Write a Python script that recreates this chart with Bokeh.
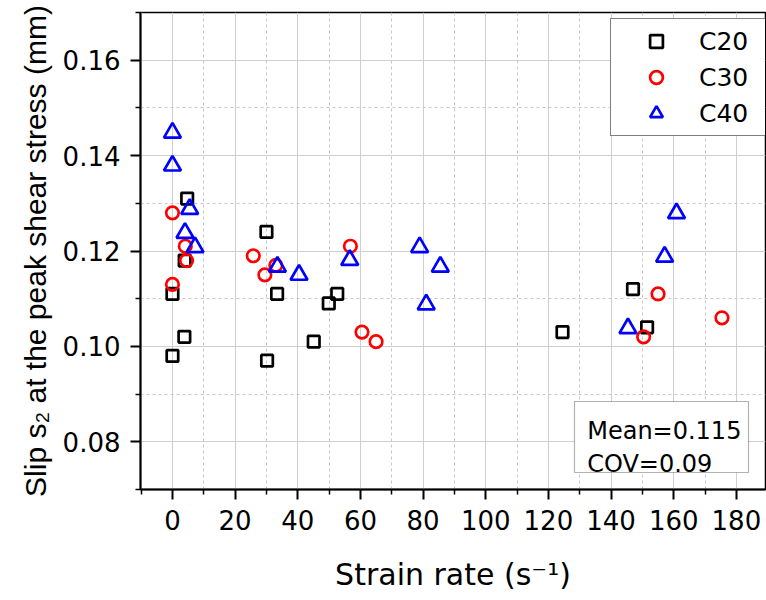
from bokeh.plotting import figure
from bokeh.models import (FixedTicker, Range1d, Legend, LegendItem, BoxAnnotation,
                          Label, NumeralTickFormatter)
from bokeh.embed import file_html
from bokeh.resources import INLINE

# Slip s2 at the peak shear stress (mm) versus strain rate (1/s)
c20_rate = [0.0, 0.0, 3.8, 3.9, 4.7, 30.0, 30.2, 33.4, 45.1, 49.9, 52.6, 124.5, 147.0, 151.5]
c20_slip = [0.111, 0.098, 0.102, 0.118, 0.131, 0.124, 0.097, 0.111, 0.101, 0.109, 0.111,
            0.103, 0.112, 0.104]

c30_rate = [0.0, 0.0, 4.1, 4.5, 25.8, 29.5, 33.0, 56.8, 60.5, 65.0, 150.4, 155.0, 175.4]
c30_slip = [0.128, 0.113, 0.121, 0.118, 0.119, 0.115, 0.117, 0.121, 0.103, 0.101, 0.102,
            0.111, 0.106]

c40_rate = [0.0, 0.0, 4.0, 5.5, 7.2, 33.5, 40.4, 56.6, 78.9, 81.0, 85.5, 145.4, 157.1, 160.9]
c40_slip = [0.1448, 0.1379, 0.1238, 0.1288, 0.1208, 0.1167, 0.1150, 0.1181, 0.1208, 0.1088,
            0.1167, 0.1038, 0.1188, 0.1279]

x_major = [0, 20, 40, 60, 80, 100, 120, 140, 160, 180]
x_minor = [-10, 10, 30, 50, 70, 90, 110, 130, 150, 170, 190]
y_major = [0.08, 0.10, 0.12, 0.14, 0.16]
y_minor = [0.07, 0.09, 0.11, 0.13, 0.15, 0.17]

stats_lines = ["Mean=0.115", "COV=0.09"]

FONT = "DejaVu Sans"
TITLE_FONT = "Liberation Sans"

p = figure(width=766, height=600, output_backend="svg", toolbar_location=None,
           x_range=Range1d(-10.2, 189.3), y_range=Range1d(0.07, 0.17),
           min_border_left=140, min_border_right=1, min_border_top=12,
           min_border_bottom=111, background_fill_color="white",
           border_fill_color="white")

p.outline_line_color = "black"
p.outline_line_width = 1.5

# axes
p.xaxis.ticker = FixedTicker(ticks=x_major, minor_ticks=x_minor)
p.yaxis.ticker = FixedTicker(ticks=y_major, minor_ticks=y_minor)
p.yaxis.formatter = NumeralTickFormatter(format="0.00")

for ax in (p.xaxis, p.yaxis):
    ax.axis_line_width = 2
    ax.axis_line_color = "black"
    ax.major_tick_in = 0
    ax.major_tick_out = 10
    ax.minor_tick_in = 0
    ax.minor_tick_out = 5
    ax.major_tick_line_width = 2
    ax.minor_tick_line_width = 1.5
    ax.major_tick_line_color = "black"
    ax.minor_tick_line_color = "black"
    ax.major_label_text_font = FONT
    ax.major_label_text_font_size = "26px"
    ax.major_label_text_color = "black"
    ax.major_label_standoff = 10
    ax.axis_label_text_font_style = "normal"
    ax.axis_label_text_color = "black"

p.xaxis.axis_label = "Strain rate (s\u207b\u00b9)"
p.xaxis.axis_label_text_font = FONT
p.xaxis.axis_label_text_font_size = "30px"
p.xaxis.axis_label_standoff = 24
p.yaxis.axis_label = "Slip s\u2082 at the peak shear stress (mm)"
p.yaxis.axis_label_text_font = TITLE_FONT
p.yaxis.axis_label_text_font_size = "30px"
p.yaxis.axis_label_standoff = 8

# grid: solid at major ticks, dashed at minor ticks
for g in (p.xgrid, p.ygrid):
    g.grid_line_color = "#cfcfcf"
    g.grid_line_width = 1
    g.minor_grid_line_color = "#c8c8c8"
    g.minor_grid_line_width = 1
    g.minor_grid_line_dash = "3 3"

r20 = p.scatter(x=c20_rate, y=c20_slip, marker="square", size=11.5, fill_color=None,
                line_color="black", line_width=2.7)
r30 = p.scatter(x=c30_rate, y=c30_slip, marker="circle", size=12.5, fill_color=None,
                line_color="#ff0000", line_width=2.7)
r40 = p.scatter(x=c40_rate, y=c40_slip, marker="triangle", size=17, fill_color=None,
                line_color="#0000ff", line_width=2.7)

legend = Legend(items=[LegendItem(label="C20", renderers=[r20]),
                       LegendItem(label="C30", renderers=[r30]),
                       LegendItem(label="C40", renderers=[r40])],
                location=(470, 353), margin=0, padding=6, spacing=4,
                glyph_width=78, glyph_height=32, label_height=32, label_width=60,
                label_standoff=4, label_text_font=FONT, label_text_font_size="25px",
                label_text_color="black", border_line_color="black",
                border_line_width=1.2, background_fill_color="white",
                background_fill_alpha=1.0)
p.add_layout(legend)

# statistics box in the lower right corner
box = BoxAnnotation(left=434, right=608, top=88, bottom=17,
                    left_units="screen", right_units="screen",
                    top_units="screen", bottom_units="screen",
                    fill_color="white", fill_alpha=1.0,
                    line_color="black", line_width=1.2)
p.add_layout(box)
for i, txt in enumerate(stats_lines):
    p.add_layout(Label(x=446.7, y=58.3 - 32.6 * i, x_units="screen", y_units="screen",
                       text=txt, text_font=FONT, text_font_size="24px",
                       text_color="black", text_baseline="alphabetic"))

open("out.html", "w").write(file_html(p, INLINE))
